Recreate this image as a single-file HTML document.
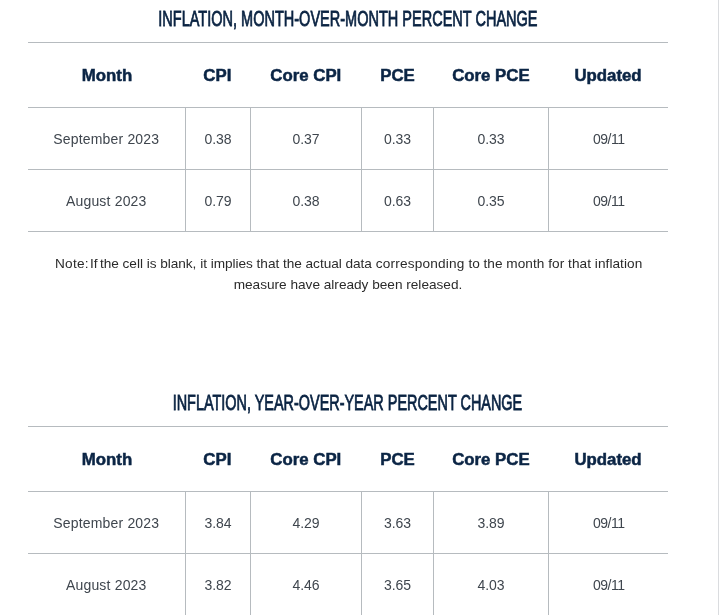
<!DOCTYPE html>
<html><head><meta charset="utf-8">
<style>
html,body{margin:0;padding:0;background:#fff;}
body{width:720px;height:615px;overflow:hidden;position:relative;font-family:"Liberation Sans",sans-serif;}
.vline{position:absolute;left:718px;top:0;width:1px;height:615px;background:#dadcdf;}
.sec{position:absolute;left:28px;width:640px;}
.title{position:absolute;left:-40px;width:720px;text-align:center;white-space:nowrap;color:#0a2342;font-size:21.5px;line-height:24px;-webkit-text-stroke:0.8px #0a2342;}
.title span{display:inline-block;transform:scaleX(0.675);transform-origin:50% 50%;}
table{position:absolute;left:0;border-collapse:collapse;width:640px;table-layout:fixed;}
th{height:65px;padding:2px 0 0 0;box-sizing:border-box;font-weight:bold;font-size:16px;color:#0b2545;-webkit-text-stroke:0.5px #0b2545;border-top:1px solid #b6bbbf;border-bottom:1px solid #b6bbbf;text-align:center;}
td{height:62px;padding:1px 0 0 1px;box-sizing:border-box;font-size:14px;color:#3f464e;border-bottom:1px solid #b6bbbf;border-left:1px solid #b6bbbf;text-align:center;}
th span{display:inline-block;transform:scaleX(1.05);}
td:first-child{border-left:none;letter-spacing:0.18px;padding-left:0;}
td:last-child{letter-spacing:-0.45px;padding-left:1px;}
.note{position:absolute;left:0;width:640px;text-align:center;font-size:13.63px;letter-spacing:-0.005px;line-height:21px;color:#2b2b2b;}
</style></head><body>
<div class="vline"></div>
<div class="sec" style="top:0">
<div class="title" style="top:7px"><span>INFLATION, MONTH-OVER-MONTH PERCENT CHANGE</span></div>
<table style="top:42px">
<colgroup><col style="width:157px"><col style="width:65px"><col style="width:111px"><col style="width:72px"><col style="width:115px"><col style="width:120px"></colgroup>
<tr><th><span>Month</span></th><th><span>CPI</span></th><th><span>Core CPI</span></th><th><span>PCE</span></th><th><span>Core PCE</span></th><th><span>Updated</span></th></tr>
<tr><td>September 2023</td><td>0.38</td><td>0.37</td><td>0.33</td><td>0.33</td><td>09/11</td></tr>
<tr><td>August 2023</td><td>0.79</td><td>0.38</td><td>0.63</td><td>0.35</td><td>09/11</td></tr>
</table>
<div class="note" style="top:253px"><span style="position:relative;left:1.3px"><span style="letter-spacing:0.25px;margin-right:-2.7px">Note:</span> If</span><span style="letter-spacing:-0.03px"> the cell is blank, it implies that the actual data</span> <span style="letter-spacing:0.2px">corresponding</span> to the <span style="letter-spacing:0.05px">month for that inflation</span><br>measure have already been released.</div>
</div>
<div class="sec" style="top:384px">
<div class="title" style="top:7px;left:-40.7px"><span style="transform:scaleX(0.671)">INFLATION, YEAR-OVER-YEAR PERCENT CHANGE</span></div>
<table style="top:42px">
<colgroup><col style="width:157px"><col style="width:65px"><col style="width:111px"><col style="width:72px"><col style="width:115px"><col style="width:120px"></colgroup>
<tr><th><span>Month</span></th><th><span>CPI</span></th><th><span>Core CPI</span></th><th><span>PCE</span></th><th><span>Core PCE</span></th><th><span>Updated</span></th></tr>
<tr><td>September 2023</td><td>3.84</td><td>4.29</td><td>3.63</td><td>3.89</td><td>09/11</td></tr>
<tr><td>August 2023</td><td>3.82</td><td>4.46</td><td>3.65</td><td>4.03</td><td>09/11</td></tr>
</table>
</div>
</body></html>
